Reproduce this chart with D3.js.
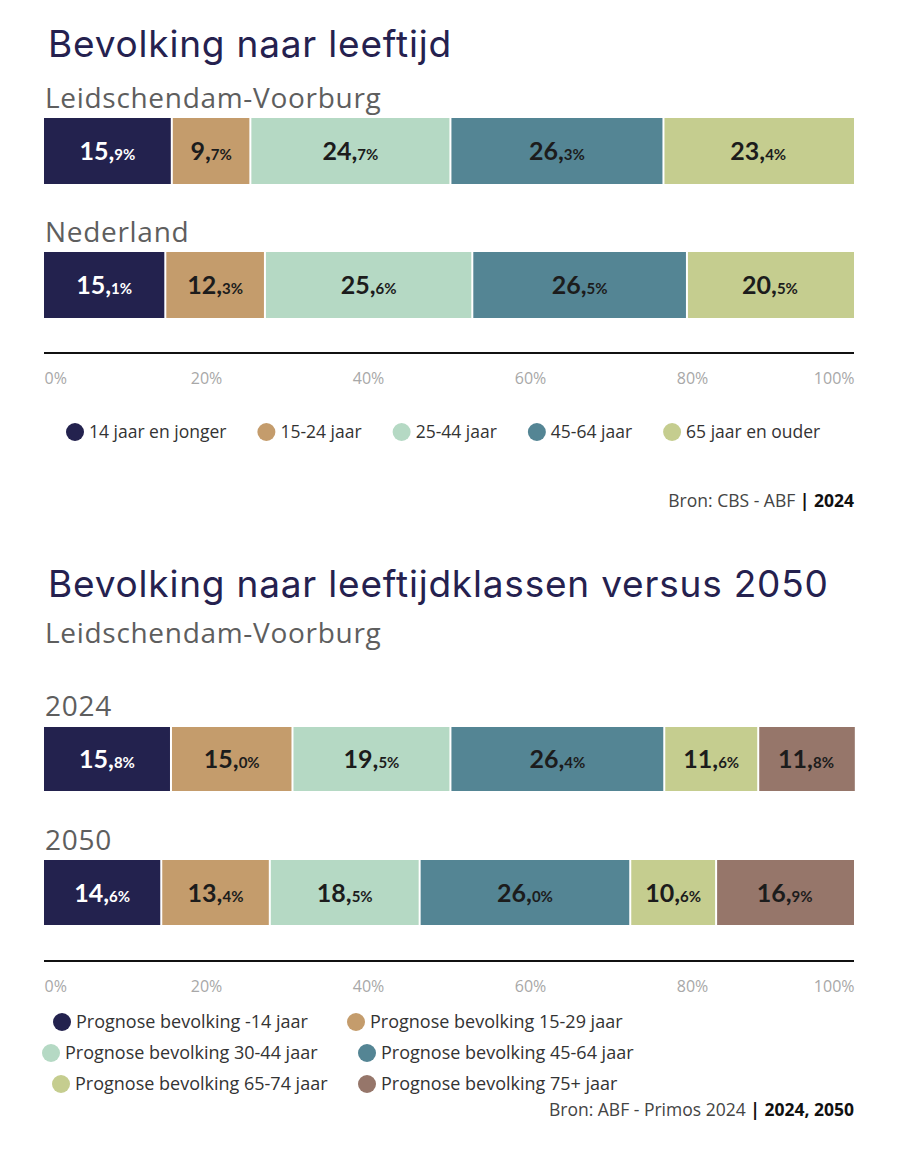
<!DOCTYPE html>
<html lang="nl">
  <head>
    <meta charset="UTF-8" />
    <title>Bevolking naar leeftijd</title>
    <script src="https://d3js.org/d3.v7.min.js"></script>
    <style>
      body { margin: 0; background: #fff; }
      .title { font-family: Inter, sans-serif; font-size: 37px; letter-spacing: 0.8px; fill: #25214f; }
      .sub { font-family: "Open Sans", sans-serif; font-size: 28px; letter-spacing: 0.7px; fill: #5e5e5e; }
      .tick text { font-family: "Open Sans", sans-serif; font-size: 16px; fill: #a8a8a8; }
      .legend { font-family: "Open Sans", sans-serif; font-size: 17.5px; fill: #333; }
      .legend2 { font-size: 18px; }
      .bron { font-family: "Open Sans", sans-serif; font-size: 17.5px; fill: #444; }
      .lbl { font-family: Lato, sans-serif; font-weight: bold; }
    </style>
  </head>
  <body>
    <svg width="908" height="1171"></svg>
    <script>
      // chart 1: leeftijd 2024
      const groups1 = ["14 jaar en jonger", "15-24 jaar", "25-44 jaar", "45-64 jaar", "65 jaar en ouder"];
      const rows1 = ["Leidschendam-Voorburg", "Nederland"];
      const ldv1 = [15.9, 9.7, 24.7, 26.3, 23.4];
      const ned1 = [15.1, 12.3, 25.6, 26.5, 20.5];

      // chart 2: 2024 vs 2050
      const groups2 = ["Prognose bevolking -14 jaar", "Prognose bevolking 15-29 jaar",
        "Prognose bevolking 30-44 jaar", "Prognose bevolking 45-64 jaar",
        "Prognose bevolking 65-74 jaar", "Prognose bevolking 75+ jaar"];
      const rows2 = ["2024", "2050"];
      const y2024 = [15.8, 15.0, 19.5, 26.4, 11.6, 11.8];
      const y2050 = [14.6, 13.4, 18.5, 26.0, 10.6, 16.9];

      const ticks = [0, 20, 40, 60, 80, 100];
      const colors = ["#23224e", "#c49c6c", "#b5d9c4", "#548594", "#c5cd8f", "#96766a"];

      const svg = d3.select("svg");
      const x = d3.scaleLinear().domain([0, 100]).range([44, 854]);

      function bar(values, y0, h) {
        const g = svg.append("g");
        let acc = 0;
        const segs = values.map((v, i) => {
          const s = { i: i, v: v, a: acc, b: acc + v };
          acc += v;
          return s;
        });
        g.selectAll("rect")
          .data(segs)
          .enter()
          .append("rect")
          .attr("x", d => x(d.a))
          .attr("y", y0)
          .attr("width", (d, i) => x(d.b) - x(d.a) - (i < segs.length - 1 ? 2 : 0))
          .attr("height", h)
          .attr("fill", d => colors[d.i]);
        const t = g.selectAll("text")
          .data(segs)
          .enter()
          .append("text")
          .attr("class", "lbl")
          .attr("x", d => (x(d.a) + x(d.b) - 2) / 2)
          .attr("y", y0 + h / 2 + 9)
          .attr("text-anchor", "middle")
          .attr("fill", d => (d.i === 0 ? "#fff" : "#1c1c1c"));
        t.append("tspan")
          .attr("font-size", "25px")
          .text(d => Math.floor(d.v) + ",");
        t.append("tspan")
          .attr("font-size", "15px")
          .text(d => d.v.toFixed(1).split(".")[1] + "%");
      }

      function axis(y0) {
        svg.append("line")
          .attr("x1", x(0)).attr("x2", x(100))
          .attr("y1", y0).attr("y2", y0)
          .attr("stroke", "#111").attr("stroke-width", 2);
        const ax = svg.append("g")
          .attr("transform", `translate(0,${y0 + 17})`)
          .call(d3.axisBottom(x).tickValues(ticks).tickSize(0).tickFormat(d => d + "%"));
        ax.select(".domain").remove();
        ax.selectAll("text")
          .attr("font-family", null).attr("font-size", null)
          .attr("text-anchor", d => (d === 0 ? "start" : d === 100 ? "end" : "middle"));
      }

      function legendItem(cx, cy, i, label, cls) {
        svg.append("circle").attr("cx", cx).attr("cy", cy).attr("r", 9).attr("fill", colors[i]);
        return svg.append("text").attr("class", cls)
          .attr("x", cx + 14).attr("y", cy + 6).text(label);
      }

      function bron(y0, plain, bold) {
        const t = svg.append("text").attr("class", "bron")
          .attr("x", 854).attr("y", y0).attr("text-anchor", "end");
        t.append("tspan").text(plain);
        t.append("tspan").attr("font-weight", "bold").attr("fill", "#111").text("| " + bold);
      }

      // ---- chart 1
      svg.append("text").attr("class", "title").attr("x", 48).attr("y", 57).text("Bevolking naar leeftijd");
      svg.append("text").attr("class", "sub").attr("x", 45).attr("y", 108).text(rows1[0]);
      bar(ldv1, 118, 66);
      svg.append("text").attr("class", "sub").attr("x", 45).attr("y", 242).text(rows1[1]);
      bar(ned1, 252, 66);
      axis(353);

      // legend 1: items one after another
      let lx = 75;
      groups1.forEach((g, i) => {
        const t = legendItem(lx, 432, i, g, "legend");
        lx = lx + 14 + t.node().getComputedTextLength() + 40;
      });
      bron(507, "Bron: CBS - ABF ", "2024");

      // ---- chart 2
      svg.append("text").attr("class", "title").attr("x", 48).attr("y", 597).text("Bevolking naar leeftijdklassen versus 2050");
      svg.append("text").attr("class", "sub").attr("x", 45).attr("y", 643).text("Leidschendam-Voorburg");
      svg.append("text").attr("class", "sub").attr("x", 45).attr("y", 716).text(rows2[0]);
      bar(y2024, 727, 64);
      svg.append("text").attr("class", "sub").attr("x", 45).attr("y", 850).text(rows2[1]);
      bar(y2050, 860, 65);
      axis(961);

      // legend 2: three rows of two
      const leg2x = [62, 356, 51, 367, 61, 367];
      const leg2y = [1022, 1022, 1053, 1053, 1084, 1084];
      groups2.forEach((g, i) => legendItem(leg2x[i], leg2y[i], i, g, "legend legend2"));
      bron(1116, "Bron: ABF - Primos 2024 ", "2024, 2050");
    </script>
  </body>
</html>
